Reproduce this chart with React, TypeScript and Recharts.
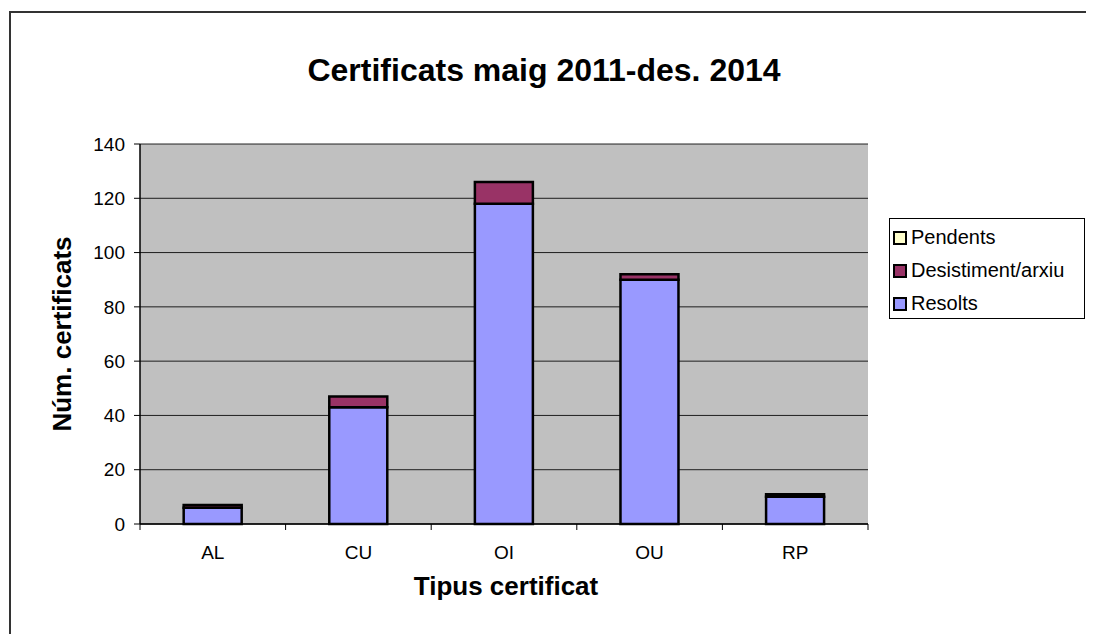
import React from "react";
import { BarChart, Bar, XAxis, YAxis, CartesianGrid } from "recharts";

const categories = ["AL", "CU", "OI", "OU", "RP"];
const resolts = [6, 43, 118, 90, 10];
const desistiment = [1, 4, 8, 2, 1];
const pendents = [0, 0, 0, 0, 0];
const yTicks = [0, 20, 40, 60, 80, 100, 120, 140];

const seriesInfo = [
  { key: "pendents", name: "Pendents", color: "#FFFFCC" },
  { key: "desistiment", name: "Desistiment/arxiu", color: "#993366" },
  { key: "resolts", name: "Resolts", color: "#9999FF" },
];

const data = categories.map((c, i) => ({
  cat: c,
  resolts: resolts[i],
  desistiment: desistiment[i],
  pendents: pendents[i],
}));

const FONT = "'Liberation Sans', Arial, sans-serif";

const LegendBox = () => (
  <div
    style={{
      position: "absolute",
      left: 881,
      top: 210,
      border: "1px solid #000",
      background: "#fff",
      width: 196,
      height: 101,
      boxSizing: "border-box",
      padding: "2px 0 0 3px",
      fontFamily: FONT,
      fontSize: 20,
      color: "#000",
    }}
  >
    {seriesInfo.map((s) => (
      <div key={s.key} style={{ display: "flex", alignItems: "center", height: 33 }}>
        <div
          style={{
            width: 10,
            height: 10,
            border: "2px solid #000",
            background: s.color,
            marginRight: 4,
          }}
        />
        <span style={{ whiteSpace: "nowrap" }}>{s.name}</span>
      </div>
    ))}
  </div>
);

const CatTick = (props: any) => {
  const { x, y, payload, index, width } = props;
  const bw = width / categories.length;
  const axisY = y - 22;
  return (
    <g>
      <line x1={x - bw / 2} x2={x - bw / 2} y1={axisY} y2={axisY + 6} stroke="#000" />
      {index === categories.length - 1 && (
        <line x1={x + bw / 2} x2={x + bw / 2} y1={axisY} y2={axisY + 6} stroke="#000" />
      )}
      <text
        x={x}
        y={y}
        dy="0.71em"
        textAnchor="middle"
        fill="#000"
        fontSize={19}
        fontFamily={FONT}
      >
        {payload.value}
      </text>
    </g>
  );
};

export default function App() {
  return (
    <div
      style={{
        position: "relative",
        width: 1078,
        height: 626,
        overflow: "hidden",
        background: "#fff",
        fontFamily: FONT,
      }}
    >
      <div
        style={{
          position: "absolute",
          left: 1,
          top: 3,
          width: 1200,
          height: 800,
          borderTop: "2px solid #333",
          borderLeft: "2px solid #333",
        }}
      />
      <div
        style={{
          position: "absolute",
          left: 36,
          top: 46,
          width: 1000,
          textAlign: "center",
          fontSize: 32,
          lineHeight: "32px",
          fontWeight: "bold",
          color: "#000",
        }}
      >
        Certificats maig 2011-des. 2014
      </div>
      <div
        style={{
          position: "absolute",
          left: 54 - 200,
          top: 326 - 15,
          width: 400,
          height: 30,
          textAlign: "center",
          fontSize: 26,
          lineHeight: "30px",
          fontWeight: "bold",
          color: "#000",
          transform: "rotate(-90deg)",
        }}
      >
        Núm. certificats
      </div>
      <div
        style={{
          position: "absolute",
          left: 498 - 200,
          top: 565,
          width: 400,
          textAlign: "center",
          fontSize: 26,
          lineHeight: "26px",
          fontWeight: "bold",
          color: "#000",
        }}
      >
        Tipus certificat
      </div>
      <div style={{ position: "absolute", left: 0, top: 0 }}>
        <BarChart
          width={1078}
          height={626}
          data={data}
          margin={{ top: 136, right: 218, bottom: 80, left: 0 }}
          barCategoryGap="30%"
        >
          <CartesianGrid
            vertical={false}
            horizontal={true}
            fill="#C0C0C0"
            stroke="#000"
            strokeOpacity={0.85}
          />
          <XAxis
            dataKey="cat"
            height={30}
            tickLine={false}
            axisLine={{ stroke: "#000", strokeWidth: 1.5 }}
            tickSize={6}
            tickMargin={16}
            tick={<CatTick />}
          />
          <YAxis
            domain={[0, 140]}
            ticks={yTicks}
            width={132}
            axisLine={{ stroke: "#000", strokeWidth: 1.5 }}
            tickLine={{ stroke: "#000" }}
            tickSize={6}
            tickMargin={9}
            tick={{ fill: "#000", fontSize: 19, fontFamily: FONT }}
          />
          <YAxis
            yAxisId="r"
            orientation="right"
            width={0}
            domain={[0, 140]}
            tick={false}
            tickLine={false}
            axisLine={{ stroke: "#808080", strokeWidth: 1.5 }}
          />
          {seriesInfo
            .slice()
            .reverse()
            .map((s) => (
              <Bar
                key={s.key}
                dataKey={s.key}
                name={s.name}
                stackId="a"
                fill={s.color}
                stroke="#000"
                strokeWidth={2.5}
                isAnimationActive={false}
              />
            ))}
        </BarChart>
      </div>
      <LegendBox />
    </div>
  );
}
